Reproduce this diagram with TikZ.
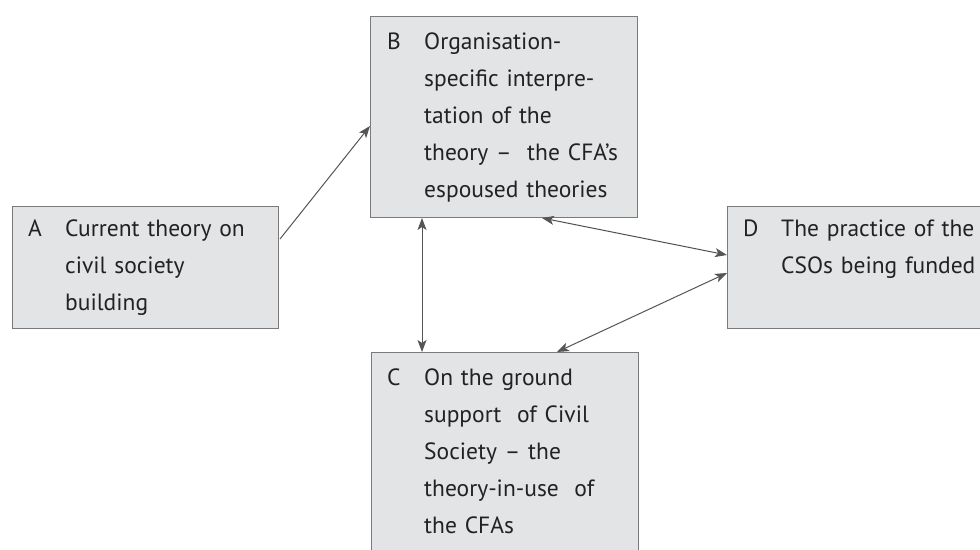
\documentclass[tikz,border=0pt]{standalone}
\usepackage{fontspec}
\setmainfont{PT Sans}
\usetikzlibrary{arrows.meta,calc}
\definecolor{boxfill}{HTML}{E3E4E6}
\definecolor{boxline}{HTML}{7A7A7A}
\definecolor{arrowcol}{HTML}{555555}
\definecolor{txt}{HTML}{222222}
\tikzset{
  panel/.style={draw=boxline, line width=1pt, fill=boxfill, rectangle, inner sep=0pt, anchor=north west},
  letter/.style={anchor=base west, inner sep=0pt, text=txt, font=\fontsize{23.5}{37}\selectfont},
  body/.style={anchor=north west, inner sep=0pt, text=txt, align=left, text width=200pt, font=\fontsize{23.5}{37}\selectfont},
  tip/.style={},
  link/.style={draw=arrowcol, line width=1pt, -{Stealth[length=12pt,width=9pt,inset=3pt]}},
  dlink/.style={draw=arrowcol, line width=1pt, {Stealth[length=12pt,width=9pt,inset=3pt]}-{Stealth[length=12pt,width=9pt,inset=3pt]}}
}
\begin{document}
\begin{tikzpicture}[x=1pt,y=-1pt]
\useasboundingbox (0,0) rectangle (980,549);
\clip (0,0) rectangle (980,549);
\fill[white] (0,0) rectangle (980,549);
% boxes
\node[panel, minimum width=266pt, minimum height=122pt] (A) at (12,206) {};
\node[panel, minimum width=267pt, minimum height=201pt] (B) at (370,16) {};
\node[panel, minimum width=267pt, minimum height=220pt] (C) at (371,352) {};
\node[panel, minimum width=270pt, minimum height=122pt] (D) at (727,206) {};
% texts
\node[letter] (Al) at ($(A.north west)+(16,30)$) {A};
\node[body] (At) at ($(A.north west)+(53,4.1)$) {\strut Current theory on\\civil society\\building};
\node[letter] (Bl) at ($(B.north west)+(17,33)$) {B};
\node[body] (Bt) at ($(B.north west)+(54,7.1)$) {\strut Organisation-\\specific interpre-\\tation of the\\theory –\ \ the CFA’s\\espoused theories};
\node[letter] (Cl) at ($(C.north west)+(16,33)$) {C};
\node[body] (Ct) at ($(C.north west)+(53,7.1)$) {\strut On the ground\\support\ \ of Civil\\Society – the\\theory-in-use\ \ of\\the CFAs};
\node[letter] (Dl) at ($(D.north west)+(16,30)$) {D};
\node[body] (Dt) at ($(D.north west)+(54,4.1)$) {\strut The practice of the\\CSOs being funded};
% connectors
\coordinate (a1) at ($(A.north east)+(1,33)$);
\coordinate (b1) at ($(B.north west)+(0,110)$);
\draw[link] (a1) -- (b1);
\coordinate (b2) at ($(B.south west)+(172,0)$);
\coordinate (d1) at ($(D.north west)+(0,49)$);
\draw[dlink] (b2) -- (d1);
\coordinate (c1) at ($(C.north west)+(186,0)$);
\coordinate (d2) at ($(D.north west)+(0,67)$);
\draw[dlink] (c1) -- (d2);
\coordinate (b3) at ($(B.south west)+(52,0)$);
\coordinate (c2) at ($(C.north west)+(51,0)$);
\draw[dlink] (b3) -- (c2);
\end{tikzpicture}
\end{document}
